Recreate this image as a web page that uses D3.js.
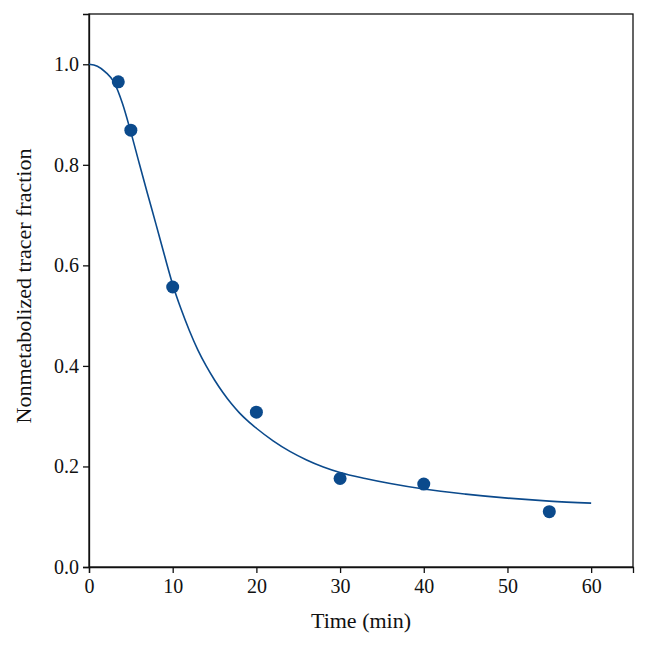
<!DOCTYPE html>
<html><head><meta charset="utf-8">
<script src="https://cdn.jsdelivr.net/npm/d3@7"></script>
<style>body{margin:0;background:#fff}svg{display:block}text{font-family:"Liberation Serif","DejaVu Serif",serif;fill:#111}</style>
</head><body><svg id="c" width="648" height="647"></svg>
<script>
const pointTimes = [3.5, 5, 10, 20, 30, 40, 55];
const pointValues = [0.965, 0.869, 0.557, 0.308, 0.176, 0.165, 0.110];
const curveTimes = [0, 1, 2, 3, 4, 5, 6, 7, 8, 9, 10, 11, 12, 13, 14, 15, 16, 17, 18, 19, 20, 22, 24, 26, 28, 30, 33, 36, 40, 45, 50, 55, 60];
const curveValues = [1.0, 0.996, 0.984, 0.964, 0.922, 0.865, 0.803, 0.742, 0.682, 0.621, 0.562, 0.513, 0.47, 0.432, 0.4, 0.372, 0.347, 0.325, 0.306, 0.29, 0.276, 0.251, 0.23, 0.213, 0.199, 0.188, 0.176, 0.166, 0.155, 0.145, 0.137, 0.131, 0.127];
const xTicks = [0, 10, 20, 30, 40, 50, 60];
const yTicks = [0.0, 0.2, 0.4, 0.6, 0.8, 1.0];

const svg = d3.select("#c");
const L = 89, R = 633, T = 14, B = 567;
const x = d3.scaleLinear().domain([0, 65]).range([L, R]);
const y = d3.scaleLinear().domain([0, 1.1]).range([B, T]);
const col = "#0b4a8c";

svg.append("rect").attr("x", L).attr("y", T).attr("width", R - L).attr("height", B - T)
  .attr("fill", "none").attr("stroke", "#111").attr("stroke-width", 1.3);

const xa = svg.append("g").attr("transform", `translate(0,${B})`)
  .call(d3.axisBottom(x).tickValues(xTicks).tickSize(6).tickPadding(5).tickFormat(d3.format("d")));
const ya = svg.append("g").attr("transform", `translate(${L},0)`)
  .call(d3.axisLeft(y).tickValues(yTicks).tickSize(6).tickPadding(4).tickFormat(d3.format(".1f")));
[xa, ya].forEach(a => {
  a.attr("font-size", null).attr("font-family", null);
  a.select(".domain").attr("stroke", "#111").attr("stroke-width", 1.3);
  a.selectAll(".tick line").attr("stroke", "#111").attr("stroke-width", 1.3);
  a.selectAll(".tick text").style("font-size", "20px").style("font-family", "'Liberation Serif', 'DejaVu Serif', serif").attr("fill", "#111");
});
xa.selectAll(".tick text").attr("dy", "0.75em");

const line = d3.line().x((d, i) => x(curveTimes[i])).y(d => y(d)).curve(d3.curveMonotoneX);
svg.append("path").attr("d", line(curveValues)).attr("fill", "none").attr("stroke", col).attr("stroke-width", 1.6);

svg.selectAll("circle.pt").data(pointValues).enter().append("circle").attr("class", "pt")
  .attr("cx", (d, i) => x(pointTimes[i])).attr("cy", d => y(d)).attr("r", 6.5).attr("fill", col);

svg.append("text").attr("x", 361).attr("y", 628).attr("text-anchor", "middle")
  .style("font-size", "22px").text("Time (min)");
svg.append("text").attr("transform", `translate(31,286) rotate(-90)`).attr("text-anchor", "middle")
  .style("font-size", "22px").text("Nonmetabolized tracer fraction");
</script></body></html>
